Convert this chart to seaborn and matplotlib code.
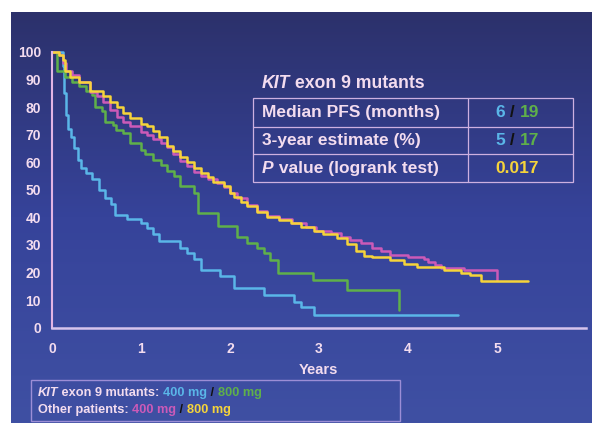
import numpy as np
import pandas as pd
import matplotlib
matplotlib.use("Agg")
import matplotlib.pyplot as plt
from matplotlib.colors import LinearSegmentedColormap
from matplotlib.patches import Rectangle
from matplotlib.lines import Line2D
import seaborn as sns

# ── Dati ────────────────────────────────────────────────────────────────────
kit400_t = [0, 0.12, 0.14, 0.16, 0.18, 0.21, 0.25, 0.29, 0.33, 0.38, 0.45, 0.53, 0.60, 0.66,
            0.71, 0.84, 1.00, 1.07, 1.14, 1.20, 1.44, 1.52, 1.59, 1.67, 1.89, 2.04, 2.38,
            2.72, 2.80, 2.94, 4.56]
kit400_s = [100, 95, 85, 77, 72, 69, 65, 61, 58, 56, 54, 50, 47, 45, 41, 39.5, 38, 36, 34,
            31.5, 29, 27, 25, 21, 18.7, 14.4, 11.8, 9.5, 7.5, 4.6, 4.6]

kit800_t = [0, 0.06, 0.15, 0.22, 0.30, 0.38, 0.45, 0.48, 0.56, 0.60, 0.68, 0.72, 0.80, 0.88,
            1.00, 1.05, 1.14, 1.22, 1.29, 1.37, 1.44, 1.59, 1.64, 1.86, 2.08, 2.19, 2.30,
            2.38, 2.45, 2.54, 2.93, 3.32, 3.90]
kit800_s = [100, 93, 91, 89, 87.5, 86, 84.5, 80, 78.5, 74.5, 73.5, 71.7, 70.5, 67, 64.5, 63,
            61, 59, 57, 55, 51.5, 49, 41.5, 36.8, 33, 30.7, 29, 27, 24.5, 19.8, 17.3, 13.7, 6.4]

oth400_t = [0, 0.08, 0.12, 0.16, 0.22, 0.30, 0.43, 0.50, 0.57, 0.65, 0.73, 0.80, 0.88, 1.00,
            1.07, 1.14, 1.22, 1.29, 1.36, 1.44, 1.52, 1.59, 1.67, 1.75, 1.85, 1.93, 2.00,
            2.08, 2.19, 2.30, 2.42, 2.55, 2.70, 2.85, 2.97, 3.13, 3.25, 3.35, 3.47, 3.60,
            3.70, 3.80, 4.00, 4.18, 4.22, 4.30, 4.37, 4.63, 5.00]
oth400_s = [100, 99, 96, 93, 91.5, 89, 85.5, 84, 82, 79, 76.5, 74.5, 73, 71, 70, 68.5, 67,
            65.5, 63, 60.5, 58.5, 56.5, 55, 54, 52.5, 51, 49, 47, 44.5, 42.5, 40.5, 39.5,
            38, 36.5, 35, 34.3, 33, 31.8, 30.7, 29, 28, 26.4, 25.5, 25, 24, 22.7, 21.7, 21, 17.3]

oth800_t = [0, 0.08, 0.12, 0.15, 0.20, 0.30, 0.43, 0.57, 0.65, 0.73, 0.80, 0.88, 1.00, 1.07,
            1.14, 1.20, 1.29, 1.36, 1.44, 1.52, 1.59, 1.67, 1.75, 1.81, 1.93, 2.00, 2.04,
            2.12, 2.19, 2.30, 2.42, 2.55, 2.68, 2.80, 2.94, 3.05, 3.20, 3.32, 3.42, 3.50,
            3.60, 3.80, 3.95, 4.10, 4.40, 4.60, 4.70, 4.82, 5.35]
oth800_s = [100, 99, 97, 93, 91, 89, 86, 84, 82, 80, 78, 76, 74, 73, 71.5, 69, 66, 64, 62,
            60, 58, 56, 54.5, 53, 51.5, 49, 47.5, 45.5, 44, 42, 40, 39, 38, 36.5, 35, 34,
            32.5, 30.5, 28, 26, 25.5, 24.5, 23, 22, 21, 20, 19, 17, 17]

groups = ["KIT 400", "KIT 800", "Other 400", "Other 800"]
colors = {"KIT 400": "#5ab6e8", "KIT 800": "#5fb04a",
          "Other 400": "#cc5ab8", "Other 800": "#f6d43a"}

x_ticks = [0, 1, 2, 3, 4, 5, 6]
x_labels = ["0", "1", "2", "3", "4", "5", ""]
y_ticks = list(range(0, 101, 10))

table_rows = ["Median PFS (months)", "3-year estimate (%)", "value (logrank test)"]
table_vals = [("6", "19"), ("5", "17"), ("0.017",)]

df = pd.concat([
    pd.DataFrame({"t": kit400_t, "s": kit400_s, "group": "KIT 400"}),
    pd.DataFrame({"t": kit800_t, "s": kit800_s, "group": "KIT 800"}),
    pd.DataFrame({"t": oth400_t, "s": oth400_s, "group": "Other 400"}),
    pd.DataFrame({"t": oth800_t, "s": oth800_s, "group": "Other 800"}),
], ignore_index=True)

# ── Stile ───────────────────────────────────────────────────────────────────
sns.set_theme(style="white")
plt.rcParams["font.family"] = ["Liberation Sans", "DejaVu Sans"]

TXT = "#f3dcef"
LINE = "#cdb0e0"

W, H = 592, 423
fig = plt.figure(figsize=(W / 100, H / 100), dpi=100, facecolor="white")


def fx(px):
    return px / W


def fy(py):
    return 1 - py / H


# sfondo a gradiente
bg = fig.add_axes([fx(11), 0, 1 - fx(11), fy(12)])
grad = np.linspace(0, 1, 256).reshape(-1, 1)
cmap = LinearSegmentedColormap.from_list("bg", ["#2c316b", "#36439a", "#3f50a3"])
bg.imshow(grad, aspect="auto", cmap=cmap, extent=[0, 1, 0, 1], origin="upper")
bg.axis("off")

ax = fig.add_axes([fx(52), fy(327.7), fx(586) - fx(52), fy(52) - fy(327.7)])
ax.patch.set_alpha(0)

sns.lineplot(data=df, x="t", y="s", hue="group", hue_order=groups, palette=colors,
             estimator=None, sort=False, drawstyle="steps-post", linewidth=1.8,
             legend=False, ax=ax)
for ln in ax.lines:
    ln.set_clip_on(False)

ax.set_xlim(0, 6)
ax.set_ylim(0, 100)
ax.set_xticks(x_ticks)
ax.set_xticklabels(x_labels)
ax.set_yticks(y_ticks)
ax.set_xlabel("")
ax.set_ylabel("")
for side in ["top", "right"]:
    ax.spines[side].set_visible(False)
ax.spines["left"].set_color("#e2b4e4")
ax.spines["bottom"].set_color("#d6c4ec")
ax.spines["left"].set_linewidth(1.5)
ax.spines["bottom"].set_linewidth(1.8)
ax.tick_params(axis="both", direction="out", length=3, width=1, color="#151515",
               labelcolor=TXT, labelsize=10)
ax.tick_params(axis="x", pad=7)
ax.tick_params(axis="y", pad=5)
for lbl in ax.get_xticklabels() + ax.get_yticklabels():
    lbl.set_fontweight("bold")

fig.text(fx(318), fy(370), "Years", ha="center", va="center", color=TXT,
         fontsize=10.5, fontweight="bold")

renderer = fig.canvas.get_renderer()


def rich(px, py, parts, size, center=False):
    arts = []
    x = px
    for txt, col, style in parts:
        t = fig.text(fx(x), fy(py), txt, color=col, fontsize=size, fontweight="bold",
                     fontstyle=style, ha="left", va="center")
        x += t.get_window_extent(renderer).width
        arts.append(t)
    if center:
        shift = (x - px) / 2
        for t in arts:
            xx, yy = t.get_position()
            t.set_position((xx - shift / W, yy))


# tabella
rich(262, 83, [("KIT", TXT, "italic"), (" exon 9 mutants", TXT, "normal")], 12.7)
tx0, tx1, tcol = 253, 573, 468
ty = [98, 127, 154, 182]
fig.add_artist(Rectangle((fx(tx0), fy(ty[-1])), fx(tx1) - fx(tx0), fy(ty[0]) - fy(ty[-1]),
                         transform=fig.transFigure, fill=False, edgecolor=LINE, lw=0.9))
for yy in ty[1:-1]:
    fig.add_artist(Line2D([fx(tx0), fx(tx1)], [fy(yy), fy(yy)], transform=fig.transFigure,
                          color=LINE, lw=0.9))
fig.add_artist(Line2D([fx(tcol), fx(tcol)], [fy(ty[0]), fy(ty[-1])],
                      transform=fig.transFigure, color=LINE, lw=0.9))

row_y = [(ty[i] + ty[i + 1]) / 2 for i in range(3)]
rich(262, row_y[0], [(table_rows[0], TXT, "normal")], 12.5)
rich(262, row_y[1], [(table_rows[1], TXT, "normal")], 12.5)
rich(262, row_y[2], [("P", TXT, "italic"), (" " + table_rows[2], TXT, "normal")], 12.5)

slash = "#111111"
for i in range(2):
    a, b = table_vals[i]
    rich(517, row_y[i], [(a, colors["KIT 400"], "normal"), (" / ", slash, "normal"),
                         (b, colors["KIT 800"], "normal")], 12.5, center=True)
rich(517, row_y[2], [(table_vals[2][0], colors["Other 800"], "normal")], 12.5, center=True)

# legenda
fig.add_artist(Rectangle((fx(31), fy(421)), fx(400) - fx(31), fy(380) - fy(421),
                         transform=fig.transFigure, fill=False, edgecolor="#9c8ed6", lw=1))
rich(38, 393, [("KIT", TXT, "italic"), (" exon 9 mutants: ", TXT, "normal"),
               ("400 mg", colors["KIT 400"], "normal"), (" / ", slash, "normal"),
               ("800 mg", colors["KIT 800"], "normal")], 9.2)
rich(38, 410, [("Other patients: ", TXT, "normal"),
               ("400 mg", colors["Other 400"], "normal"), (" / ", slash, "normal"),
               ("800 mg", colors["Other 800"], "normal")], 9.2)

fig.savefig("out.png", dpi=100, facecolor="white")
